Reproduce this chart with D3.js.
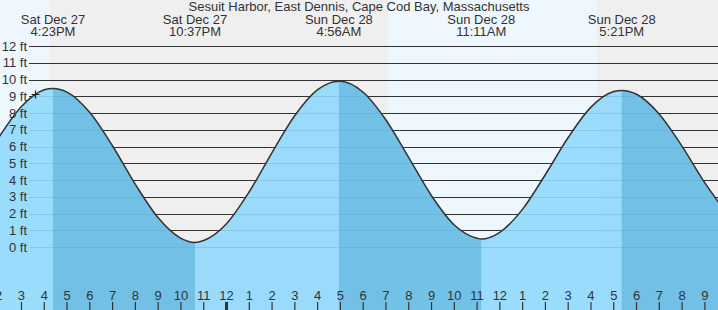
<!DOCTYPE html>
<meta charset="utf-8">
<style>
body { margin: 0; }
svg { display: block; font-family: "Liberation Sans", Arial, sans-serif; }
.lbl { fill: #333; font-size: 13px; }
</style>
<svg id="chart"></svg>
<script src="https://cdn.jsdelivr.net/npm/d3@7"></script>
<script>
// hours are relative to midnight Sun Dec 28
var title = "Sesuit Harbor, East Dennis, Cape Cod Bay, Massachusetts";

var hourlyTimes = [-10, -9, -8, -7, -6, -5, -4, -3, -2, -1, 0, 1, 2, 3, 4, 5, 6, 7, 8, 9, 10,
                   11, 12, 13, 14, 15, 16, 17, 18, 19, 20, 21, 22];
var hourlyHeights = [6.53, 8.39, 9.39, 9.25, 8.03, 6.03, 3.74, 1.74, 0.52, 0.39, 1.39, 3.30, 5.64,
                     7.85, 9.39, 9.90, 9.24, 7.58, 5.34, 3.06, 1.31, 0.52, 0.88, 2.26, 4.33, 6.54,
                     8.35, 9.28, 9.12, 7.93, 6.01, 3.83, 1.94];

var extremeTimes = [-7.617, -1.383, 4.933, 11.183, 17.35];
var extremeHeights = [9.47, 0.27, 9.9, 0.48, 9.35];
var extremeTypes = ["H", "L", "H", "L", "H"];
var extremeDays = ["Sat Dec 27", "Sat Dec 27", "Sun Dec 28", "Sun Dec 28", "Sun Dec 28"];
var extremeClock = ["4:23PM", "10:37PM", "4:56AM", "11:11AM", "5:21PM"];

// sunset / sunrise
var nightBands = [[-7.75, 7.09], [16.26, 23]];

var tickHours = [-10, -9, -8, -7, -6, -5, -4, -3, -2, -1, 0, 1, 2, 3, 4, 5, 6, 7, 8, 9, 10,
                 11, 12, 13, 14, 15, 16, 17, 18, 19, 20, 21];
var tickLabels = ["2", "3", "4", "5", "6", "7", "8", "9", "10", "11", "12", "1", "2", "3", "4", "5",
                  "6", "7", "8", "9", "10", "11", "12", "1", "2", "3", "4", "5", "6", "7", "8", "9"];
var feetTicks = [0, 1, 2, 3, 4, 5, 6, 7, 8, 9, 10, 11, 12];

var nowHour = -8.42, nowHeight = 9.12;

var width = 718, height = 310;

var svg = d3.select("#chart").attr("width", width).attr("height", height);

var x = d3.scaleLinear().domain([-9.943, 21.576]).range([0, width]);
var y = d3.scaleLinear().domain([0, 12]).range([247, 46]);

// day background
svg.append("rect").attr("width", width).attr("height", height).attr("fill", "#eef7fe");

svg.selectAll("rect.night")
  .data(nightBands)
  .enter().append("rect")
    .attr("class", "night")
    .attr("x", function(d) { return x(d[0]); })
    .attr("width", function(d) { return x(d[1]) - x(d[0]); })
    .attr("y", 0)
    .attr("height", height)
    .attr("fill", "#efefef");

// grid lines
svg.selectAll("line.grid")
  .data(feetTicks)
  .enter().append("line")
    .attr("class", "grid")
    .attr("x1", 29).attr("x2", width)
    .attr("y1", function(d) { return Math.round(y(d)) + 0.5; })
    .attr("y2", function(d) { return Math.round(y(d)) + 0.5; })
    .attr("stroke", "#333")
    .attr("stroke-width", 1);

// tide points
var points = hourlyTimes.map(function(t, i) { return { t: t, h: hourlyHeights[i] }; });
extremeTimes.forEach(function(t, i) { points.push({ t: t, h: extremeHeights[i] }); });
points.sort(function(a, b) { return a.t - b.t; });

var area = d3.area()
  .x(function(d) { return x(d.t); })
  .y0(height)
  .y1(function(d) { return y(d.h); })
  .curve(d3.curveMonotoneX);

var line = d3.line()
  .x(function(d) { return x(d.t); })
  .y(function(d) { return y(d.h); })
  .curve(d3.curveMonotoneX);

svg.append("clipPath").attr("id", "water")
  .append("path").attr("d", area(points));

svg.append("path")
  .attr("d", area(points))
  .attr("fill", "#90d8fc")
  .attr("fill-opacity", 0.9);

// falling tide shading
var ebb = [];
extremeTimes.forEach(function(t, i) {
  if (extremeTypes[i] === "H") {
    ebb.push([t, i + 1 < extremeTimes.length ? extremeTimes[i + 1] : 23]);
  }
});

svg.append("g").attr("clip-path", "url(#water)")
  .selectAll("rect")
  .data(ebb)
  .enter().append("rect")
    .attr("x", function(d) { return x(d[0]); })
    .attr("width", function(d) { return x(d[1]) - x(d[0]); })
    .attr("y", 0)
    .attr("height", height)
    .attr("fill", "#4aa6d1")
    .attr("fill-opacity", 0.5);

svg.append("path")
  .attr("d", line(points))
  .attr("fill", "none")
  .attr("stroke", "#333")
  .attr("stroke-width", 1.5);

// feet labels
svg.selectAll("text.ft")
  .data(feetTicks)
  .enter().append("text")
    .attr("class", "lbl ft")
    .attr("x", 27)
    .attr("y", function(d) { return y(d); })
    .attr("dy", "0.35em")
    .attr("text-anchor", "end")
    .text(function(d) { return d + " ft"; });

// now marker
var nx = Math.round(x(nowHour)) + 0.5, ny = Math.round(y(nowHeight)) + 0.5;
svg.append("path")
  .attr("d", "M" + (nx - 4) + "," + ny + "H" + (nx + 4) + "M" + nx + "," + (ny - 4) + "V" + (ny + 4))
  .attr("stroke", "#222")
  .attr("stroke-width", 1.2);

// hour ticks
var ticks = svg.selectAll("g.tick")
  .data(tickHours)
  .enter().append("g")
    .attr("class", "tick")
    .attr("transform", function(d) { return "translate(" + x(d) + ",0)"; });

ticks.append("line")
  .attr("y1", 302).attr("y2", height)
  .attr("stroke", "#333")
  .attr("stroke-width", function(d) { return d === 0 ? 3 : 1.2; });

ticks.append("text")
  .attr("class", "lbl")
  .attr("y", 300)
  .attr("text-anchor", "middle")
  .text(function(d, i) { return tickLabels[i]; });

// high / low labels
var ext = svg.selectAll("g.ext")
  .data(extremeTimes)
  .enter().append("g")
    .attr("class", "ext")
    .attr("transform", function(d) { return "translate(" + x(d) + ",0)"; });

ext.append("text").attr("class", "lbl").attr("y", 24).attr("text-anchor", "middle")
  .text(function(d, i) { return extremeDays[i]; });
ext.append("text").attr("class", "lbl").attr("y", 36).attr("text-anchor", "middle")
  .text(function(d, i) { return extremeClock[i]; });

svg.append("text")
  .attr("class", "lbl")
  .attr("x", width / 2)
  .attr("y", 11)
  .attr("text-anchor", "middle")
  .text(title);
</script>
